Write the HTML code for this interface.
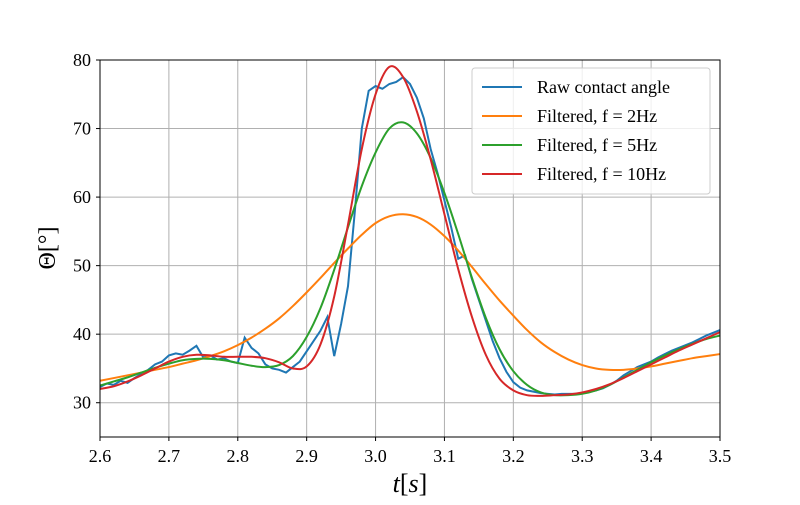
<!DOCTYPE html>
<html><head><meta charset="utf-8"><style>
body{margin:0;background:#fff}
svg text{font-family:"Liberation Serif",serif;fill:#000}
</style></head><body>
<svg id="chart" width="800" height="500" viewBox="0 0 800 500" xmlns="http://www.w3.org/2000/svg">
<rect width="800" height="500" fill="#fff"/>
<g id="grid"></g>
<g id="plot"></g>
<rect x="100" y="60" width="620" height="377" fill="none" stroke="#000" stroke-width="1"/>
<g id="ticks"></g>
<text x="410" y="492" font-size="26" text-anchor="middle" font-style="italic">t<tspan font-style="normal">[</tspan>s<tspan font-style="normal">]</tspan></text>
<text transform="translate(55,248) rotate(-90)" font-size="24" text-anchor="middle">Θ[°]</text>
<g>
<rect x="472" y="68" width="238" height="126" rx="3" fill="#fff" fill-opacity="0.8" stroke="#ccc"/>
<g id="legend"></g>
</g>
</svg>
<script>
const tRaw=[2.60,2.61,2.62,2.63,2.64,2.65,2.66,2.67,2.68,2.69,2.70,2.71,2.72,2.73,2.74,2.75,2.76,2.77,2.78,2.79,2.80,2.81,2.82,2.83,2.84,2.85,2.86,2.87,2.88,2.89,2.90,2.91,2.92,2.93,2.94,2.95,2.96,2.97,2.98,2.99,3.00,3.01,3.02,3.03,3.04,3.05,3.06,3.07,3.08,3.09,3.10,3.11,3.12,3.13,3.14,3.15,3.16,3.17,3.18,3.19,3.20,3.21,3.22,3.23,3.24,3.25,3.26,3.27,3.28,3.29,3.30,3.31,3.32,3.33,3.34,3.35,3.36,3.37,3.38,3.39,3.40,3.41,3.42,3.43,3.44,3.45,3.46,3.47,3.48,3.49,3.50];
const rawAngle=[32.3,32.8,32.6,33.2,32.9,33.6,34.2,34.8,35.6,36.0,36.9,37.2,37.0,37.6,38.3,36.6,36.9,36.3,36.5,36.0,35.8,39.5,38.0,37.2,35.6,35.0,34.8,34.4,35.2,36.0,37.5,39.0,40.5,42.5,36.8,41.5,47.0,58.0,70.0,75.5,76.2,75.8,76.5,76.8,77.5,76.5,74.5,71.5,67.0,63.5,59.5,55.5,51.0,51.5,48.0,45.0,42.0,39.0,36.5,34.5,33.0,32.2,31.8,31.6,31.4,31.3,31.2,31.3,31.3,31.3,31.4,31.6,31.8,32.1,32.6,33.2,34.0,34.6,35.2,35.6,36.0,36.6,37.1,37.6,38.0,38.4,38.8,39.3,39.8,40.2,40.6];
const tFilt=[2.60,2.62,2.64,2.66,2.68,2.70,2.72,2.74,2.76,2.78,2.80,2.82,2.84,2.86,2.88,2.90,2.92,2.94,2.96,2.98,3.00,3.02,3.04,3.06,3.08,3.10,3.12,3.14,3.16,3.18,3.20,3.22,3.24,3.26,3.28,3.30,3.32,3.34,3.36,3.38,3.40,3.42,3.44,3.46,3.48,3.50];
const filt2Hz=[33.2,33.6,34.0,34.4,34.8,35.2,35.7,36.2,36.8,37.5,38.4,39.5,40.8,42.3,44.1,46.1,48.2,50.4,52.5,54.5,56.2,57.2,57.5,57.1,56.0,54.3,52.2,49.8,47.3,44.9,42.7,40.6,38.8,37.4,36.3,35.5,35.0,34.8,34.8,35.0,35.3,35.7,36.1,36.5,36.8,37.1];
const filt5Hz=[32.5,33.1,33.7,34.4,35.1,35.7,36.2,36.4,36.4,36.2,35.8,35.4,35.2,35.5,36.8,39.6,43.8,49.4,55.6,61.6,66.5,70.0,70.9,69.3,65.7,60.6,54.6,48.2,42.4,37.8,34.6,32.6,31.5,31.1,31.1,31.3,31.8,32.6,33.7,34.8,35.9,36.9,37.8,38.6,39.3,39.8];
const filt10Hz=[32.0,32.4,33.1,34.0,35.0,36.0,36.7,37.0,36.9,36.7,36.7,36.7,36.5,35.9,35.0,35.3,38.5,45.5,56.0,67.0,75.0,79.0,77.5,72.5,65.5,57.5,49.5,42.5,37.0,33.5,31.8,31.1,31.0,31.1,31.2,31.5,32.0,32.7,33.6,34.6,35.6,36.6,37.6,38.5,39.4,40.3];
const xTicks=[2.6,2.7,2.8,2.9,3.0,3.1,3.2,3.3,3.4,3.5];
const yTicks=[30,40,50,60,70,80];
const legendLabels=["Raw contact angle","Filtered, f = 2Hz","Filtered, f = 5Hz","Filtered, f = 10Hz"];
const colors=["#1f77b4","#ff7f0e","#2ca02c","#d62728"];

const X=t=>100+(t-2.6)/0.9*620;
const Y=v=>437-(v-25)/55*377;
const NS="http://www.w3.org/2000/svg";
function mk(tag,attrs,parent){const e=document.createElementNS(NS,tag);for(const k in attrs)e.setAttribute(k,attrs[k]);parent.appendChild(e);return e;}
const grid=document.getElementById('grid'),ticks=document.getElementById('ticks'),plot=document.getElementById('plot'),leg=document.getElementById('legend');
xTicks.forEach(t=>{
  const l=mk('line',{x1:X(t),x2:X(t),y1:60,y2:437,stroke:'#b0b0b0','stroke-width':1},grid);
  
  
  const tk=mk('line',{x1:X(t),x2:X(t),y1:437,y2:441,stroke:'#000'},ticks);
  
  
  const tx=mk('text',{x:X(t),y:462,'font-size':18,'text-anchor':'middle'},ticks);
  tx.textContent=t.toFixed(1);
  
  
});
yTicks.forEach(v=>{
  const l=mk('line',{x1:100,x2:720,y1:Y(v),y2:Y(v),stroke:'#b0b0b0','stroke-width':1},grid);
  
  
  const tk=mk('line',{x1:96,x2:100,y1:Y(v),y2:Y(v),stroke:'#000'},ticks);
  
  
  const tx=mk('text',{x:91,y:Y(v)+6,'font-size':18,'text-anchor':'end'},ticks);
  tx.textContent=v;
  
  
});
function smooth(ts,vs){
  const p=ts.map((t,i)=>[X(t),Y(vs[i])]);
  let d='M'+p[0][0]+','+p[0][1];
  for(let i=0;i<p.length-1;i++){
    const p0=p[Math.max(i-1,0)],p1=p[i],p2=p[i+1],p3=p[Math.min(i+2,p.length-1)];
    d+=' C'+(p1[0]+(p2[0]-p0[0])/6)+','+(p1[1]+(p2[1]-p0[1])/6)+' '+(p2[0]-(p3[0]-p1[0])/6)+','+(p2[1]-(p3[1]-p1[1])/6)+' '+p2[0]+','+p2[1];
  }
  return d;
}
const raw=mk('polyline',{points:tRaw.map((t,i)=>X(t)+','+Y(rawAngle[i])).join(' '),fill:'none',stroke:colors[0],'stroke-width':2},plot);


const series=[filt2Hz,filt5Hz,filt10Hz],names=['filtered-2hz-line','filtered-5hz-line','filtered-10hz-line'];
series.forEach((s,k)=>{
  const p=mk('path',{d:smooth(tFilt,s),fill:'none',stroke:colors[k+1],'stroke-width':2},plot);
  
  
});
legendLabels.forEach((lab,i)=>{
  const y=87+i*29;
  const l=mk('line',{x1:482,x2:522,y1:y,y2:y,stroke:colors[i],'stroke-width':2},leg);
  
  
  const t=mk('text',{x:537,y:y+6,'font-size':18},leg);
  t.textContent=lab;
  
  
});
</script>
</body></html>
